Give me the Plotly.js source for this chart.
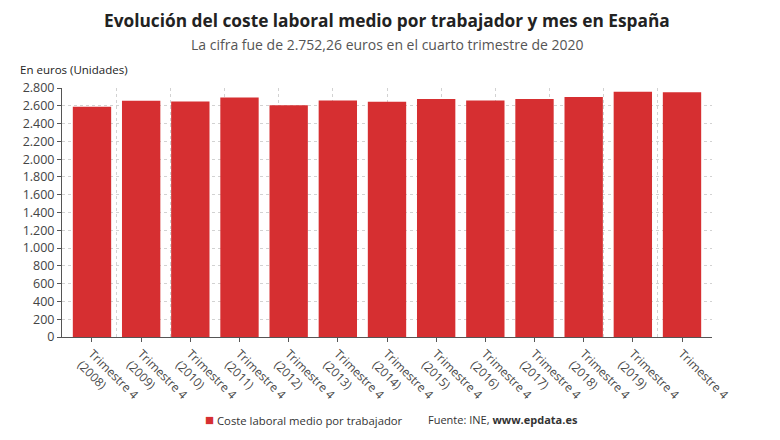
<!DOCTYPE html>
<html>
<head>
<meta charset="utf-8">
<script src="https://cdn.plot.ly/plotly-3.0.1.min.js"></script>
<style>
  html, body { margin: 0; padding: 0; background: #fff; }
  #chart { width: 780px; height: 440px; }
</style>
</head>
<body>
<div id="chart"></div>
<script>
// Coste laboral medio por trabajador y mes, cuarto trimestre de cada año (euros)
const years = ['2008', '2009', '2010', '2011', '2012', '2013', '2014',
               '2015', '2016', '2017', '2018', '2019', '2020'];
const tickLabels = ['Trimestre 4<br>(2008)', 'Trimestre 4<br>(2009)', 'Trimestre 4<br>(2010)',
                    'Trimestre 4<br>(2011)', 'Trimestre 4<br>(2012)', 'Trimestre 4<br>(2013)',
                    'Trimestre 4<br>(2014)', 'Trimestre 4<br>(2015)', 'Trimestre 4<br>(2016)',
                    'Trimestre 4<br>(2017)', 'Trimestre 4<br>(2018)', 'Trimestre 4<br>(2019)',
                    'Trimestre 4'];
const coste = [2588, 2656, 2649, 2694, 2607, 2660, 2644,
               2675, 2660, 2675, 2700, 2757, 2752.26];
const yTicks = [0, 200, 400, 600, 800, 1000, 1200, 1400, 1600, 1800, 2000, 2200, 2400, 2600, 2800];
const seriesName = 'Coste laboral medio por trabajador';

const RED = '#d62f31';
const FONT = '"Open Sans", "Noto Sans", sans-serif';

const traces = [
  {
    type: 'bar',
    x: years,
    y: coste,
    name: seriesName,
    marker: { color: RED },
    showlegend: false,
    hoverinfo: 'y'
  },
  {
    // empty trace that carries the secondary x axis used for the vertical grid
    type: 'scatter',
    x: [],
    y: [],
    xaxis: 'x2',
    showlegend: false,
    hoverinfo: 'skip'
  }
];

const layout = {
  width: 780,
  height: 440,
  margin: { l: 62, r: 68, t: 88, b: 103 },
  paper_bgcolor: '#ffffff',
  plot_bgcolor: '#ffffff',
  separators: ',.',
  font: { family: FONT, color: '#444', size: 12 },
  bargap: 0.22,
  xaxis: {
    type: 'category',
    range: [-0.61, 12.61],
    tickvals: years,
    ticktext: tickLabels,
    tickangle: 45,
    ticks: 'outside',
    ticklen: 4,
    tickcolor: '#555',
    tickfont: { family: FONT, size: 12, color: '#4a4a4a' },
    showgrid: false,
    showline: true,
    linecolor: '#555',
    linewidth: 1,
    zeroline: false,
    automargin: false,
    fixedrange: true
  },
  xaxis2: {
    overlaying: 'x',
    range: [0, 12],
    dtick: 1,
    showgrid: true,
    gridcolor: '#d2d2d2',
    griddash: 'dot',
    gridwidth: 1,
    showticklabels: false,
    ticks: '',
    zeroline: false,
    showline: false,
    fixedrange: true
  },
  yaxis: {
    range: [0, 2800],
    tickvals: yTicks,
    tickformat: ',d',
    ticks: 'outside',
    ticklen: 4,
    tickcolor: '#555',
    tickfont: { family: FONT, size: 12.5, color: '#444' },
    showgrid: true,
    gridcolor: '#d2d2d2',
    griddash: 'dot',
    gridwidth: 1,
    showline: true,
    linecolor: '#555',
    zeroline: false,
    automargin: false,
    fixedrange: true
  },
  showlegend: false,
  annotations: [
    {
      text: '<b>Evolución del coste laboral medio por trabajador y mes en España</b>',
      xref: 'paper', yref: 'paper',
      x: 0.5, xanchor: 'center',
      y: 1.273, yanchor: 'middle',
      showarrow: false,
      font: { family: FONT, size: 17.3, color: '#222' }
    },
    {
      text: 'La cifra fue de 2.752,26 euros en el cuarto trimestre de 2020',
      xref: 'paper', yref: 'paper',
      x: 0.5, xanchor: 'center',
      y: 1.173, yanchor: 'middle',
      showarrow: false,
      font: { family: FONT, size: 14, color: '#555' }
    },
    {
      text: 'En euros (Unidades)',
      xref: 'paper', yref: 'paper',
      x: -0.068, xanchor: 'left',
      y: 1.075, yanchor: 'middle',
      showarrow: false,
      font: { family: FONT, size: 11.5, color: '#222' }
    },
    {
      // series key: coloured square followed by the series name
      text: '<span style="color:' + RED + ';font-size:15px">■</span> ' + seriesName,
      xref: 'paper', yref: 'paper',
      x: 0.217, xanchor: 'left',
      y: -0.33, yanchor: 'middle',
      showarrow: false,
      font: { family: FONT, size: 11.3, color: '#333' }
    },
    {
      text: 'Fuente: INE, <b>www.epdata.es</b>',
      xref: 'paper', yref: 'paper',
      x: 0.56, xanchor: 'left',
      y: -0.33, yanchor: 'middle',
      showarrow: false,
      font: { family: FONT, size: 11, color: '#333' }
    }
  ]
};

Plotly.newPlot('chart', traces, layout, { displayModeBar: false, staticPlot: true });
</script>
</body>
</html>
